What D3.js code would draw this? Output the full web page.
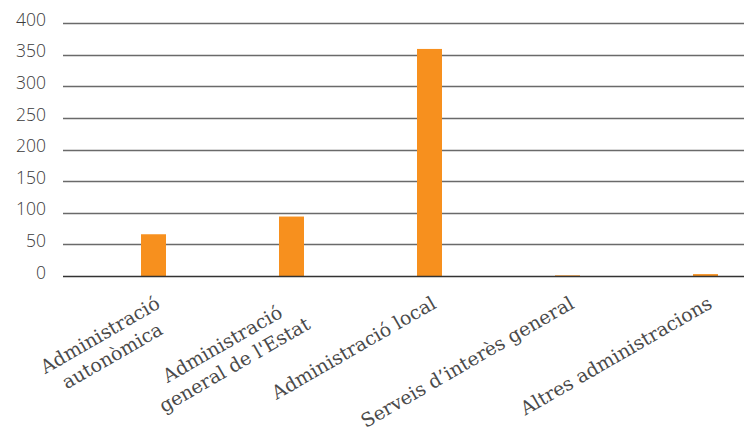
<!DOCTYPE html>
<html>
<head>
<meta charset="utf-8">
<script src="https://cdn.jsdelivr.net/npm/d3@7/dist/d3.min.js"></script>
<style>
  html, body { margin: 0; padding: 0; background: #fff; }
  svg { display: block; }
</style>
</head>
<body>
<svg id="chart" width="744" height="434"></svg>
<script>
const categories = [
  ["Administració", "autonòmica"],
  ["Administració", "general de l'Estat"],
  ["Administració local"],
  ["Serveis d’interès general"],
  ["Altres administracions"]
];
const values = [66, 94, 359, 1, 3];
const yTicks = [0, 50, 100, 150, 200, 250, 300, 350, 400];

(function () {
const plotLeft = 63, plotRight = 744, plotTop = 23, plotBottom = 276;
const svg = d3.select("#chart");

const keys = categories.map(c => c.join(" "));
const x = d3.scalePoint().domain(keys).range([153.5, 705.5]);
const barW = 25;
const y = d3.scaleLinear().domain([0, 400]).range([plotBottom, plotTop]);

// gridlines
svg.append("g").selectAll("line").data(yTicks.filter(t => t > 0)).join("line")
  .attr("x1", plotLeft).attr("x2", plotRight)
  .attr("y1", d => Math.round(y(d)) + 0.5).attr("y2", d => Math.round(y(d)) + 0.5)
  .attr("stroke", "#6a6a6a").attr("stroke-width", 1.3);

// y tick labels
svg.append("g").selectAll("text").data(yTicks).join("text")
  .attr("x", 46).attr("y", d => y(d) - 2)
  .attr("text-anchor", "end").attr("dominant-baseline", "middle")
  .attr("font-family", "'Open Sans', sans-serif").attr("font-size", 17.5)
  .attr("font-weight", 300)
  .attr("fill", "#3a3a3a")
  .text(d => d);

// bars
svg.append("g").selectAll("rect").data(values).join("rect")
  .attr("x", (d, i) => x(keys[i]) - barW / 2)
  .attr("width", barW)
  .attr("y", d => y(d))
  .attr("height", d => Math.max(0, y(0) - y(d)))
  .attr("fill", "#f7901e");

// baseline axis
svg.append("line")
  .attr("x1", plotLeft).attr("x2", plotRight)
  .attr("y1", y(0) + 0.5).attr("y2", y(0) + 0.5)
  .attr("stroke", "#333").attr("stroke-width", 1.5);

// x labels, rotated -30deg, block top-right at tick
const fs = 19;
const lineH = 24;
const lg = svg.append("g");
categories.forEach((lines, i) => {
  const g = lg.append("g")
    .attr("transform", `translate(${x(keys[i]) + 1},${y(0) + 19}) rotate(-30)`);
  const texts = lines.map((t, j) => g.append("text")
    .attr("font-family", "'DejaVu Serif', serif")
    .attr("font-size", fs)
    .attr("fill", "#4a4a4a")
    .attr("text-anchor", "middle")
    .attr("y", 14 + j * lineH)
    .text(t));
  const maxW = d3.max(texts, t => t.node().getComputedTextLength());
  texts.forEach(t => t.attr("x", -maxW / 2));
});
})();
</script>
</body>
</html>
